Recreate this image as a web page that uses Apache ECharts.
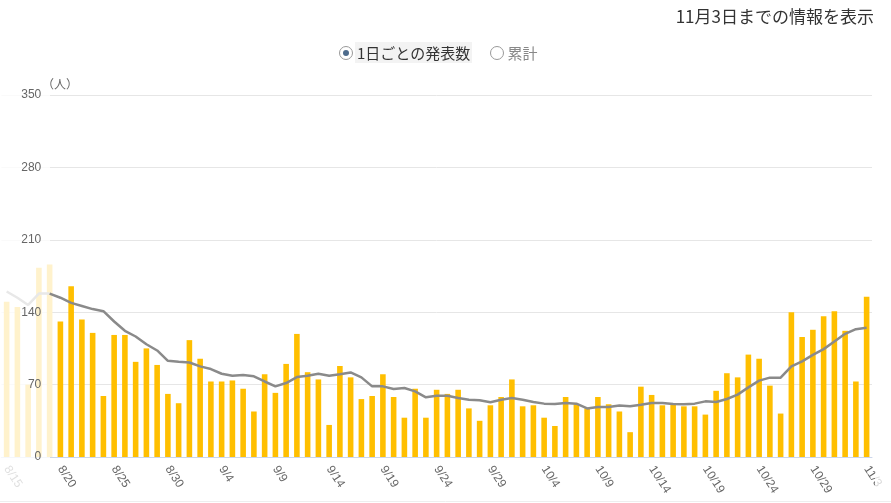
<!DOCTYPE html>
<html lang="ja">
<head>
<meta charset="UTF-8">
<title>発表数</title>
<style>
  body { margin: 0; background: #fff; font-family: "Noto Sans CJK JP", sans-serif; }
  #wrap { position: relative; width: 891px; height: 503px; overflow: hidden; }
  #upd { position: absolute; right: 17px; top: 3px; font-size: 17px; color: #333; }
  .radios { position: absolute; left: 339px; top: 40px; font-size: 15px; color: #333; }
  .radios span { display: inline-block; vertical-align: middle; }
  .dot { width: 14px; height: 14px; border: 1px solid #999; border-radius: 50%; box-sizing: border-box; position: relative; background: #fff; }
  .dot.on::after { content: ""; position: absolute; left: 3px; top: 3px; width: 6px; height: 6px; border-radius: 50%; background: #4d6b8c; }
  .lbl { padding: 0 2px; margin-left: 2px; }
  .lbl.on { background: #f3f3f3; }
  .lbl.off { color: #888; }
  #main { position: absolute; left: 0; top: 0; width: 891px; height: 503px; }
</style>
</head>
<body>
<div id="wrap">
  <div id="main"></div>
  <div id="upd">11月3日までの情報を表示</div>
  <div class="radios">
    <span class="dot on"></span><span class="lbl on">1日ごとの発表数</span>
    <span class="dot" style="margin-left:14px"></span><span class="lbl off">累計</span>
  </div>
</div>

<script src="https://cdn.jsdelivr.net/npm/echarts@6/dist/echarts.min.js"></script>
<script type="text/javascript">

    // 日付 (8/15 〜 11/3)
    var dates = [
        '8/15','8/16','8/17','8/18','8/19','8/20','8/21','8/22','8/23','8/24','8/25','8/26','8/27','8/28','8/29','8/30','8/31',
        '9/1','9/2','9/3','9/4','9/5','9/6','9/7','9/8','9/9','9/10','9/11','9/12','9/13','9/14','9/15',
        '9/16','9/17','9/18','9/19','9/20','9/21','9/22','9/23','9/24','9/25','9/26','9/27','9/28','9/29','9/30',
        '10/1','10/2','10/3','10/4','10/5','10/6','10/7','10/8','10/9','10/10','10/11','10/12','10/13','10/14','10/15',
        '10/16','10/17','10/18','10/19','10/20','10/21','10/22','10/23','10/24','10/25','10/26','10/27','10/28','10/29','10/30','10/31',
        '11/1','11/2','11/3'
    ];

    // 1日ごとの発表数
    var daily = [
        150, 145, 70, 183, 186, 131, 165, 133, 120, 59, 118, 118, 92, 105, 89, 61, 52,
        113, 95, 73, 73, 74, 66, 44, 80, 62, 90, 119, 82, 75, 31, 88,
        77, 56, 59, 80, 58, 38, 66, 38, 65, 61, 65, 47, 35, 50, 58,
        75, 49, 50, 38, 30, 58, 51, 47, 58, 51, 44, 24, 68, 60, 50,
        52, 49, 49, 41, 64, 81, 77, 99, 95, 69, 42, 140, 116, 123, 136, 141,
        122, 73, 155
    ];

    // 7日間平均
    var average = [
        160, 154, 147, 158, 158, 154, 149, 146, 143, 141, 131, 122, 116.5, 109, 103, 93, 92,
        91.4, 87.6, 85, 80.5, 78.6, 79.3, 78, 73, 68.3, 71.5, 77.3, 78.6, 80.5, 78.6, 80,
        81.8, 77, 68.3, 68.3, 65.8, 66.7, 63.5, 57.7, 59.3, 59.3, 57, 55.4, 54.8, 52.9, 55.4,
        57, 55.4, 53.2, 51.6, 51.3, 52.3, 51.6, 47, 48.4, 48.4, 49.7, 49, 50.6, 52.3, 52.3,
        51.3, 51, 51.6, 53.8, 53.2, 56.1, 60.3, 67.3, 73.8, 76.7, 76.7, 87.6, 92.4, 98.8, 104.3, 111.7,
        119.1, 123.6, 124.9
    ];

    var yTicks = [0, 70, 140, 210, 280, 350];

    // 表示範囲より前の日数（薄く表示）
    var hiddenDays = 5;

    var barData = daily.map(function (v, i) {
        return { value: v, itemStyle: { color: i < hiddenDays ? '#fff2cc' : '#ffbf00' } };
    });
    // 平均線：薄い部分と通常部分に分ける
    var avgFaded = average.map(function (v, i) { return i < hiddenDays ? v : null; });
    var avgMain = average.map(function (v, i) { return i >= hiddenDays - 1 ? v : null; });

    var myChart = echarts.init(document.getElementById('main'));

    var option = {
        animation: false,
        grid: { left: -2, right: 19, top: 95, bottom: 46 },
        xAxis: {
            type: 'category',
            data: dates,
            axisTick: { show: false },
            axisLine: { lineStyle: { color: '#ccd6eb' } },
            axisLabel: {
                interval: 4,
                rotate: -57,
                color: '#666',
                fontSize: 12,
                margin: 10
            }
        },
        yAxis: [{
            // 目盛線だけ
            type: 'value',
            min: yTicks[0],
            max: yTicks[yTicks.length - 1],
            interval: 70,
            axisLabel: { show: false },
            axisLine: { show: false },
            axisTick: { show: false },
            splitLine: { lineStyle: { color: '#e6e6e6' } }
        }, {
            // ラベルだけ（白い幕より上）
            type: 'value',
            position: 'left',
            offset: -48,
            z: 20,
            min: yTicks[0],
            max: yTicks[yTicks.length - 1],
            interval: 70,
            axisLabel: { color: '#666', fontSize: 12, margin: 8 },
            axisLine: { show: false },
            axisTick: { show: false },
            splitLine: { show: false }
        }],
        series: [{
            name: '発表数',
            type: 'bar',
            data: barData,
            barWidth: '52%',
            z: 2
        }, {
            name: '7日間平均(前)',
            type: 'line',
            data: avgFaded,
            symbol: 'none',
            lineStyle: { color: '#e8e8e8', width: 2.5 },
            z: 3
        }, {
            name: '7日間平均',
            type: 'line',
            data: avgMain,
            symbol: 'none',
            lineStyle: { color: '#8a8a8a', width: 2.5 },
            z: 4
        }],
        graphic: [
            // 左側の白い幕（目盛線とラベルを薄く）
            { type: 'rect', left: 0, top: 60, z: 1, shape: { width: 50, height: 443 },
              style: { fill: 'rgba(255,255,255,0.8)' } },
            // 右端
            { type: 'rect', left: 875, top: 460, z: 10, shape: { width: 16, height: 43 },
              style: { fill: 'rgba(255,255,255,0.75)' } },
            { type: 'text', left: 42, top: 78, z: 20,
              style: { text: '（人）', fill: '#666', font: '12px "Noto Sans CJK JP", sans-serif' } },
            { type: 'line', z: 20, shape: { x1: 0, y1: 501.5, x2: 891, y2: 501.5 },
              style: { stroke: '#eeeeee', lineWidth: 1 } }
        ]
    };
    myChart.setOption(option);
</script>
</body>
</html>
